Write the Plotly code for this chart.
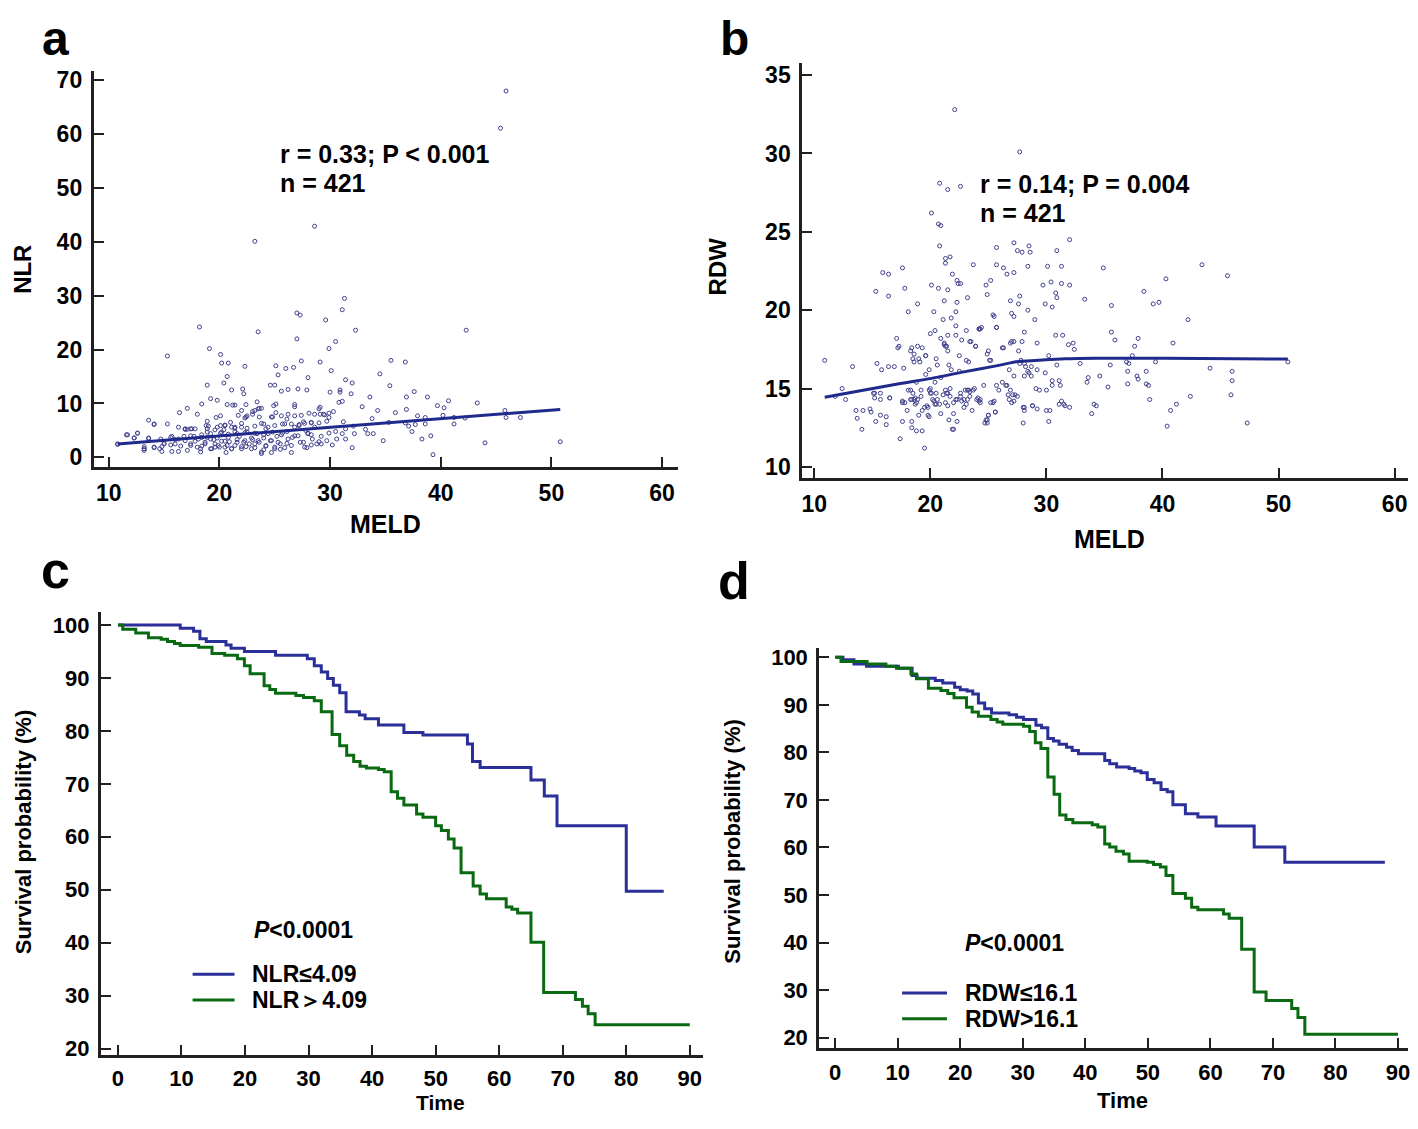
import plotly.graph_objects as go

# ---------------- Panel a: NLR vs MELD ----------------
meld_a = [
    31.3, 31.1, 27.0, 27.3, 29.6, 18.2, 23.5, 32.3, 42.3, 27.0,
    30.5, 29.9, 19.1, 20.1, 15.3, 20.2, 20.8, 22.3, 27.4, 29.1,
    35.5, 36.8, 25.1, 26.0, 26.7, 30.1, 25.3, 28.0, 20.7, 34.5,
    31.4, 32.0, 20.4, 35.4, 18.9, 24.6, 25.0, 22.1, 21.1, 22.2,
    26.2, 25.6, 27.1, 27.9, 30.0, 30.9, 30.9, 31.9, 37.6, 38.8,
    33.6, 36.9, 40.7, 43.3, 39.7, 40.3, 36.9, 35.9, 34.3, 32.9,
    45.8, 45.9, 47.2, 42.2, 41.2, 40.2, 37.9, 38.6, 33.8, 35.3,
    36.8, 37.1, 37.7, 38.6, 41.2, 37.4, 38.3, 39.1, 44.0, 50.8,
    39.3, 34.8, 33.9, 33.2, 33.4, 32.0, 32.2, 32.1, 31.2, 31.4,
    31.1, 30.5, 30.2, 30.6, 31.4, 29.9, 29.9, 29.9, 30.3, 30.8,
    31.1, 29.1, 29.0, 29.4, 28.6, 28.1, 29.0, 28.3, 27.7, 27.2,
    26.8, 28.0, 28.3, 27.8, 27.1, 26.6, 29.0, 29.2, 28.3, 27.9,
    26.5, 25.5, 24.7, 24.0, 23.8, 24.2, 23.2, 22.4, 22.0, 21.1,
    20.6, 19.6, 19.2, 18.4, 18.3, 17.1, 16.3, 15.7, 14.8, 14.1,
    13.2, 13.2, 12.3, 11.6, 12.6, 10.8, 13.6, 14.1, 15.3, 13.6,
    16.3, 16.4, 17.1, 18.0, 18.4, 19.2, 19.8, 20.7, 21.2, 21.4,
    22.0, 22.4, 23.4, 21.7, 22.4, 23.0, 23.5, 23.8, 24.9, 25.1,
    24.8, 26.2, 26.8, 26.8, 27.4, 18.9, 19.0, 20.1, 19.7, 20.5,
    21.4, 22.0, 22.5, 23.2, 23.8, 24.4, 25.0, 25.7, 17.8, 17.4,
    16.9, 15.7, 16.0, 16.8, 17.7, 18.4, 19.2, 20.1, 20.8, 21.6,
    22.3, 23.2, 24.0, 24.8, 25.6, 26.1, 15.0, 17.4, 18.7, 19.5,
    20.2, 20.9, 21.6, 22.2, 23.0, 23.5, 24.6, 25.3, 26.1, 27.6,
    19.9, 20.5, 21.4, 22.9, 25.0, 14.7, 18.1, 18.9, 19.8, 21.0,
    20.4, 45.9, 45.4, 28.6, 23.2, 10.8, 11.7, 12.6, 12.3, 13.6,
    13.2, 13.2, 14.1, 14.6, 14.8, 15.0, 15.6, 15.6, 16.0, 16.3,
    16.5, 16.9, 17.4, 17.4, 17.8, 18.0, 18.3, 18.4, 18.7, 18.9,
    19.2, 19.3, 19.6, 19.8, 20.0, 20.2, 20.5, 20.7, 20.8, 21.1,
    21.4, 21.6, 21.8, 22.0, 22.3, 22.5, 22.7, 22.9, 23.2, 23.4,
    23.6, 23.8, 24.0, 24.2, 24.4, 24.7, 25.0, 25.2, 25.5, 25.7,
    25.9, 26.2, 26.5, 26.8, 27.3, 27.7, 28.0, 28.4, 28.8, 29.2, 29.7,
    16.9, 17.1, 17.5, 18.8, 18.9, 19.6, 20.1, 20.5, 21.1, 21.4,
    22.0, 22.3, 22.5, 23.0, 23.2, 23.6, 23.6, 24.0, 24.2, 24.7,
    25.1, 25.6, 25.9, 26.1, 26.5, 26.8, 27.2, 27.6, 28.3, 28.6,
    29.1, 29.5, 29.7, 14.1,
]
nlr_a = [
    29.5, 27.4, 26.8, 26.4, 25.5, 24.2, 23.3, 23.6, 23.6, 22.0,
    21.5, 20.2, 20.2, 19.1, 18.8, 17.5, 17.5, 16.9, 17.9, 17.7,
    18.0, 17.7, 17.0, 16.5, 16.7, 16.1, 15.3, 14.8, 15.0, 15.5,
    14.4, 13.8, 13.8, 13.3, 13.4, 13.4, 13.4, 12.7, 12.5, 11.8,
    12.6, 12.3, 12.7, 12.5, 12.1, 12.5, 12.1, 11.8, 12.2, 11.2,
    11.2, 11.2, 10.5, 10.1, 9.6, 9.2, 8.9, 8.3, 8.7, 9.4,
    8.7, 7.4, 7.4, 7.3, 7.4, 7.8, 7.7, 7.4, 7.2, 6.5,
    6.4, 5.8, 6.1, 6.2, 6.2, 4.8, 3.4, 4.0, 2.7, 2.9,
    0.5, 3.1, 4.4, 5.2, 4.4, 1.8, 4.4, 5.8, 6.6, 5.3,
    4.4, 4.8, 2.3, 3.4, 3.4, 4.5, 7.4, 8.2, 8.5, 10.2,
    10.4, 9.3, 9.0, 8.0, 8.0, 8.2, 6.4, 6.4, 6.3, 6.1,
    5.6, 4.4, 4.2, 5.0, 4.0, 3.7, 2.9, 2.5, 2.3, 1.8,
    0.9, 1.5, 0.9, 1.4, 0.7, 2.1, 2.5, 2.0, 1.6, 1.6,
    0.9, 1.9, 1.6, 2.1, 1.0, 1.3, 1.1, 1.1, 1.1, 1.8,
    1.3, 1.6, 3.6, 4.2, 4.5, 2.5, 3.6, 6.2, 6.2, 6.9,
    5.6, 8.3, 9.1, 8.0, 9.9, 10.9, 10.6, 9.8, 9.7, 9.7,
    8.7, 9.8, 10.3, 7.8, 7.5, 8.0, 9.0, 9.1, 9.6, 9.9,
    7.5, 8.0, 9.8, 9.4, 7.8, 6.7, 5.8, 7.7, 7.4, 5.9,
    5.4, 5.6, 5.4, 5.8, 6.3, 5.6, 5.9, 6.2, 5.3, 5.3,
    5.3, 3.9, 3.3, 3.9, 3.9, 4.2, 4.4, 4.5, 4.3, 4.4,
    4.6, 4.5, 4.2, 4.7, 4.2, 4.8, 2.6, 2.5, 2.8, 3.3,
    3.0, 2.9, 3.3, 2.8, 3.3, 3.1, 3.1, 2.8, 2.6, 2.8,
    2.2, 1.9, 2.2, 1.6, 1.9, 3.4, 3.4, 3.7, 5.6, 6.5,
    5.1, 68.0, 61.1, 42.9, 40.1, 2.4, 4.2, 4.5, 3.6, 3.5,
    1.6, 2.0, 1.9, 1.6, 2.0, 2.5, 2.3, 3.7, 2.5, 3.4,
    2.1, 3.1, 4.0, 2.2, 3.0, 1.9, 1.6, 3.7, 2.5, 4.7,
    3.4, 1.6, 2.5, 3.6, 1.9, 4.7, 3.0, 2.2, 3.7, 1.6,
    4.8, 2.8, 3.9, 2.0, 3.1, 4.7, 2.5, 3.6, 1.8, 4.4,
    2.8, 1.0, 3.6, 2.2, 4.4, 3.1, 1.6, 3.9, 2.5, 4.5,
    1.8, 3.4, 2.2, 4.0, 2.8, 1.9, 4.5, 3.4, 2.5, 3.9, 3.1,
    5.2, 5.2, 5.3, 5.9, 5.3, 5.1, 5.9, 6.0, 5.6, 5.6,
    6.3, 7.3, 7.7, 8.5, 8.7, 9.1, 7.5, 6.2, 5.3, 7.5,
    8.3, 7.7, 6.2, 7.1, 6.2, 7.7, 5.9, 6.6, 6.5, 5.6,
    8.0, 7.9, 6.7, 6.1,
]
fit_a_meld = [10.8, 50.8]
fit_a_nlr = [2.5, 8.9]

# ---------------- Panel b: RDW vs MELD ----------------
meld_b = [
    20.1, 20.7, 20.9, 20.8, 21.3, 21.3, 21.7, 21.9, 22.3, 22.4,
    22.6, 21.5, 20.7, 20.1, 20.3, 21.1, 21.2, 21.8, 22.2, 22.3,
    23.2, 23.7, 24.8, 24.9, 25.2, 25.7, 25.7, 26.3, 26.6, 27.2,
    27.2, 27.5, 27.9, 28.5, 28.6, 28.4, 26.9, 27.6, 27.7, 28.4,
    27.0, 27.2, 29.0, 29.7, 30.1, 30.4, 30.9, 31.3, 31.3, 32.0,
    32.0, 29.9, 30.5, 30.8, 30.9, 33.3, 34.9, 35.6, 38.4, 39.2,
    39.7, 40.3, 42.2, 43.4, 45.6, 15.3, 15.9, 16.4, 16.4, 17.6,
    17.8, 18.9, 18.1, 22.1, 27.7, 20.8, 21.5, 22.6, 17.1, 17.3,
    17.2, 18.4, 18.9, 19.3, 19.6, 20.0, 20.4, 20.9, 21.2, 21.4,
    21.5, 22.2, 22.2, 22.7, 23.1, 23.4, 23.9, 24.2, 24.4, 25.0,
    25.4, 25.5, 25.7, 26.2, 26.9, 27.0, 28.1, 29.2, 30.8, 31.4,
    31.9, 32.3, 32.4, 30.2, 35.6, 35.9, 37.4, 37.9, 37.6, 40.9,
    10.9, 13.3, 12.4, 11.8, 12.7, 13.6, 14.2, 13.7, 14.1, 14.8,
    14.9, 15.1, 15.4, 15.3, 15.7, 15.7, 15.8, 16.2, 16.2, 16.4,
    16.5, 16.9, 17.4, 17.6, 17.6, 17.7, 18.0, 18.1, 18.3, 18.4,
    18.4, 18.6, 18.8, 18.8, 18.8, 19.3, 19.0, 19.2, 19.2, 19.3,
    19.5, 19.6, 19.7, 19.8, 19.9, 20.0, 20.1, 20.2, 20.4, 20.4,
    20.5, 20.6, 20.9, 20.9, 21.1, 21.3, 21.4, 21.5, 21.6, 21.7,
    21.9, 22.0, 22.0, 22.2, 22.3, 22.5, 22.6, 22.7, 22.9, 23.0,
    23.2, 23.3, 23.4, 23.6, 23.8, 24.0, 24.2, 24.3, 24.6, 24.7,
    24.9, 25.0, 25.2, 25.4, 25.6, 25.7, 25.9, 26.2, 26.5, 26.7,
    26.8, 27.0, 27.2, 27.3, 27.5, 27.7, 28.0, 28.1, 28.0, 28.2,
    28.5, 28.7, 28.8, 29.1, 29.2, 29.4, 29.9, 30.0, 30.0, 30.2,
    30.3, 30.5, 30.5, 30.9, 31.1, 31.1, 31.2, 31.3, 31.5, 31.6,
    32.0, 32.9, 33.5, 33.6, 33.9, 34.1, 34.3, 34.6, 35.3, 35.5,
    36.9, 37.1, 37.0, 37.0, 37.8, 37.9, 38.6, 38.6, 38.8, 38.9,
    39.4, 40.4, 40.7, 41.2, 42.4, 44.1, 45.9, 46.0, 46.0, 47.3, 50.8,
    15.2, 15.2, 15.7, 16.5, 17.6, 17.8, 18.3, 18.5, 18.7, 18.4,
    18.7, 18.9, 19.5, 19.8, 19.9, 20.0, 20.3, 20.5, 20.8, 21.3,
    21.5, 21.7, 22.0, 22.3, 22.6, 22.9, 23.1, 23.2, 23.4, 23.7,
    24.1, 24.3, 24.8, 24.9, 25.0, 25.5, 25.6, 26.6, 26.9, 27.1,
    26.8, 27.2, 28.1, 28.8, 28.1, 28.4, 18.3, 18.6, 19.0, 19.1,
    18.5, 18.6, 19.6, 19.9, 20.5, 20.6, 21.2, 21.3, 21.5, 21.6,
    21.8, 22.5, 23.1, 23.3, 23.5, 23.9, 24.2, 24.3, 24.9, 25.1,
    25.2, 25.7, 26.3, 27.2, 27.6, 27.9, 27.8, 28.1, 28.7, 29.2,
]
rdw_b = [
    26.2, 25.5, 25.4, 24.1, 23.3, 23.0, 23.4, 22.3, 21.9, 21.7,
    21.7, 21.3, 21.4, 21.6, 19.9, 19.4, 20.6, 19.5, 19.9, 20.5,
    20.8, 22.9, 21.6, 21.0, 21.9, 24.0, 22.9, 22.7, 22.3, 24.3,
    22.4, 23.8, 23.7, 24.1, 23.7, 22.8, 20.6, 20.4, 20.9, 20.0,
    19.8, 19.6, 19.4, 21.6, 22.8, 21.8, 23.8, 22.8, 21.7, 24.5,
    21.6, 20.4, 20.2, 21.1, 20.8, 20.7, 22.7, 20.3, 21.2, 20.4,
    20.5, 22.0, 19.4, 22.9, 22.2, 21.2, 22.4, 22.3, 20.9, 22.7,
    21.4, 20.4, 19.9, 32.8, 30.1, 28.1, 27.7, 27.9, 18.2, 17.7,
    17.6, 17.6, 17.7, 17.6, 17.1, 18.5, 18.7, 18.2, 17.8, 17.7,
    18.4, 18.4, 19.0, 18.1, 18.7, 18.0, 17.7, 18.8, 18.9, 17.4,
    19.7, 19.6, 18.9, 17.6, 17.9, 18.0, 18.6, 17.9, 18.4, 18.4,
    17.8, 17.9, 17.5, 17.1, 18.6, 18.1, 17.1, 18.2, 17.7, 17.9,
    16.8, 16.4, 15.0, 14.5, 14.3, 13.6, 13.6, 13.1, 12.4, 13.7,
    13.5, 14.7, 16.6, 12.9, 14.3, 13.3, 16.2, 13.2, 12.7, 16.4,
    14.4, 16.4, 11.8, 14.1, 12.9, 16.3, 13.6, 14.9, 14.3, 12.9,
    12.5, 14.3, 15.4, 14.1, 12.3, 12.3, 13.3, 14.5, 14.9, 13.6,
    11.2, 15.9, 13.9, 13.3, 13.2, 15.0, 14.7, 14.3, 15.4, 14.0,
    14.7, 14.3, 13.4, 15.7, 14.6, 14.1, 14.7, 13.9, 13.0, 15.0,
    12.4, 12.4, 13.4, 14.3, 12.9, 16.1, 14.7, 14.2, 13.8, 14.9,
    14.3, 14.9, 14.5, 13.6, 15.0, 14.3, 14.2, 14.1, 15.2, 12.8,
    13.0, 13.3, 14.1, 14.1, 13.5, 15.2, 14.9, 15.4, 15.2, 14.6,
    16.2, 14.1, 15.8, 14.6, 14.5, 16.6, 13.8, 13.6, 12.8, 16.4,
    16.0, 15.8, 13.9, 15.0, 13.7, 14.9, 16.0, 14.9, 13.6, 12.9,
    13.6, 15.5, 15.2, 16.5, 14.0, 15.5, 15.2, 14.2, 14.0, 13.9,
    13.8, 16.6, 15.4, 15.7, 13.4, 14.0, 13.9, 15.8, 15.1, 16.5,
    16.7, 16.6, 16.1, 15.3, 15.8, 15.6, 16.1, 15.3, 15.2, 14.3,
    16.7, 12.6, 13.6, 14.0, 14.5, 16.3, 14.6, 15.5, 16.1, 12.8, 16.7,
    14.7, 14.4, 14.7, 14.4, 14.2, 14.1, 14.9, 14.7, 14.4, 14.3,
    14.0, 14.3, 13.8, 13.8, 14.9, 14.7, 14.2, 14.0, 14.0, 14.9,
    14.7, 14.5, 14.1, 14.3, 14.5, 14.3, 14.0, 14.9, 14.8, 14.9,
    14.4, 14.3, 13.0, 12.8, 13.3, 14.2, 13.5, 15.2, 14.9, 14.6,
    14.3, 14.2, 13.8, 13.9, 15.8, 16.1, 17.4, 17.2, 16.9, 16.7,
    16.9, 16.7, 17.1, 16.2, 16.9, 16.5, 17.9, 17.7, 17.4, 16.5,
    16.2, 17.1, 16.8, 16.7, 18.0, 17.7, 18.8, 18.8, 17.2, 16.8,
    16.8, 18.9, 17.6, 18.0, 17.4, 18.0, 16.8, 16.6, 16.4, 16.2,
]
fit_b_meld = [10.9, 17.3, 20.1, 23.0, 25.9, 27.6, 28.7, 31.6, 34.5, 40.2, 50.8]
fit_b_rdw = [14.45, 15.3, 15.65, 16.08, 16.48, 16.73, 16.77, 16.9, 16.94, 16.94, 16.88]

# ---------------- Panel c: KM by NLR ----------------
time_c_low = [0, 9.8, 11.9, 12.9, 13.9, 17.0, 17.8, 19.9, 24.8, 29.8, 30.9, 32.0, 33.0,
              33.9, 34.9, 35.9, 38.0, 38.9, 41.0, 45.0, 48.0, 55.0, 55.8, 57.0, 65.0,
              67.1, 69.1, 80.0, 85.9]
surv_c_low = [100, 99.4, 98.8, 97.4, 96.9, 96.2, 95.6, 95.0, 94.3, 93.6, 92.3, 91.1, 89.9,
              88.6, 87.2, 83.6, 83.0, 82.3, 81.1, 79.7, 79.2, 77.5, 74.2, 73.1, 70.7,
              67.7, 62.1, 49.7, 49.7]
time_c_high = [0, 0.75, 2.8, 4.8, 6.8, 7.8, 8.9, 9.8, 12.7, 14.8, 16.8, 18.8, 19.9, 20.8,
               23.0, 23.9, 24.8, 28.0, 29.2, 30.9, 32.0, 33.7, 34.9, 36.0, 37.1, 38.1,
               39.1, 41.0, 41.9, 43.0, 44.0, 45.0, 47.0, 48.0, 50.0, 50.9, 52.0, 52.9,
               54.0, 55.9, 57.0, 58.0, 61.1, 62.0, 62.9, 65.0, 67.0, 72.0, 73.1, 74.0,
               75.1, 90.0]
surv_c_high = [100, 99.2, 98.5, 97.6, 97.3, 96.9, 96.5, 96.1, 95.8, 94.6, 94.3, 93.6, 92.3,
               90.8, 88.5, 87.8, 87.1, 86.7, 86.3, 85.7, 83.6, 79.3, 77.2, 75.4, 74.2,
               73.3, 73.0, 72.7, 72.3, 68.5, 67.3, 66.0, 64.3, 63.7, 62.1, 61.2, 59.6,
               57.9, 53.2, 50.7, 49.2, 48.3, 46.75, 46.3, 45.6, 40.1, 30.6, 29.25, 28.0,
               26.6, 24.5, 24.5]

# ---------------- Panel d: KM by RDW ----------------
time_d_low = [0, 1.24, 3.0, 5.0, 10.1, 12.3, 13.1, 16.0, 17.2, 19.1, 20.0, 21.1, 22.0,
              22.9, 23.9, 25.0, 27.8, 29.0, 30.1, 32.1, 33.0, 34.0, 34.9, 35.8, 37.0,
              37.9, 38.9, 43.1, 43.9, 45.0, 47.0, 47.9, 48.9, 49.9, 51.0, 52.1, 53.1,
              54.0, 56.0, 58.0, 60.9, 67.0, 71.9, 87.9]
surv_d_low = [100, 99.5, 98.6, 98.1, 97.7, 96.2, 95.6, 95.1, 94.6, 93.7, 93.2, 92.9, 92.3,
              90.4, 89.2, 88.3, 87.9, 87.4, 86.9, 85.7, 85.2, 82.9, 82.4, 81.7, 81.1,
              80.4, 79.7, 78.3, 77.6, 76.9, 76.6, 76.1, 75.7, 74.3, 73.6, 72.2, 71.7,
              69.0, 67.1, 66.4, 64.5, 60.1, 56.9, 56.9]
time_d_high = [0, 0.93, 5.1, 8.1, 9.8, 12.1, 13.0, 14.9, 16.9, 18.0, 19.0, 21.0, 21.9,
               22.9, 24.9, 25.9, 26.8, 30.1, 31.1, 32.0, 32.9, 34.0, 35.0, 35.9, 36.9,
               38.0, 41.1, 42.0, 43.1, 43.9, 44.9, 46.1, 47.0, 49.9, 50.9, 52.0, 52.9,
               54.0, 56.0, 57.0, 58.0, 62.1, 63.0, 65.0, 67.0, 68.9, 73.0, 74.0, 75.1, 90.0]
surv_d_high = [100, 99.1, 98.6, 98.1, 97.7, 96.5, 95.5, 93.5, 93.0, 92.4, 91.5, 89.5, 88.5,
               87.6, 86.9, 86.4, 85.9, 85.5, 84.4, 82.0, 80.8, 74.8, 71.2, 66.8, 65.9,
               65.2, 64.8, 64.3, 60.7, 60.1, 59.2, 58.6, 57.1, 56.9, 56.4, 55.9, 54.1,
               50.3, 49.3, 47.4, 46.9, 46.0, 45.1, 38.6, 29.6, 27.8, 26.1, 24.2, 20.7, 20.7]

ticks_a_x = [10, 20, 30, 40, 50, 60]
ticks_a_y = [0, 10, 20, 30, 40, 50, 60, 70]
ticks_b_y = [10, 15, 20, 25, 30, 35]
ticks_km_x = [0, 10, 20, 30, 40, 50, 60, 70, 80, 90]
ticks_km_y = [20, 30, 40, 50, 60, 70, 80, 90, 100]

# ---------------- Styling ----------------
# The page body has an 8px margin, so the figure is sized to fit inside it and
# reference pixel positions are shifted by that margin.
OFF = 8
W, H = 1418 - 2 * OFF, 1129 - 2 * OFF
FONT = "Liberation Sans, Arial, sans-serif"
AXC = "#231f20"
DOT = "#40408c"
FIT = "#1f2a8c"
BLUE = "#2b2f98"
GREEN = "#0a6a12"


def px(x):
    return min(1.0, max(0.0, (x - OFF) / W))


def py(y):
    return min(1.0, max(0.0, 1 - (y - OFF) / H))


def axis(domain, rng, tickvals, size=23, anchor=None, standoff=3):
    d = dict(domain=domain, range=rng, tickvals=tickvals,
             showline=True, linewidth=3, linecolor=AXC,
             ticks="inside", ticklen=10, tickwidth=2, tickcolor=AXC,
             showgrid=False, zeroline=False, ticklabeloverflow="allow",
             tickfont=dict(family=FONT, size=size, color="black", weight="bold"),
             ticklabelstandoff=standoff)
    if anchor:
        d["anchor"] = anchor
    return d


fig = go.Figure()

# panel a
fig.add_trace(go.Scatter(x=meld_a, y=nlr_a, mode="markers", xaxis="x", yaxis="y",
                         marker=dict(symbol="circle-open", size=4, color=DOT, line=dict(width=1)),
                         showlegend=False))
fig.add_trace(go.Scatter(x=fit_a_meld, y=fit_a_nlr, mode="lines", xaxis="x", yaxis="y",
                         line=dict(color=FIT, width=3), showlegend=False))
# panel b
fig.add_trace(go.Scatter(x=meld_b, y=rdw_b, mode="markers", xaxis="x2", yaxis="y2",
                         marker=dict(symbol="circle-open", size=4, color=DOT, line=dict(width=1)),
                         showlegend=False))
fig.add_trace(go.Scatter(x=fit_b_meld, y=fit_b_rdw, mode="lines", xaxis="x2", yaxis="y2",
                         line=dict(color=FIT, width=3, shape="spline"), showlegend=False))
# panel c
fig.add_trace(go.Scatter(x=time_c_low, y=surv_c_low, mode="lines", xaxis="x3", yaxis="y3",
                         line=dict(color=BLUE, width=3, shape="hv"), showlegend=False))
fig.add_trace(go.Scatter(x=time_c_high, y=surv_c_high, mode="lines", xaxis="x3", yaxis="y3",
                         line=dict(color=GREEN, width=3, shape="hv"), showlegend=False))
# panel d
fig.add_trace(go.Scatter(x=time_d_low, y=surv_d_low, mode="lines", xaxis="x4", yaxis="y4",
                         line=dict(color=BLUE, width=3, shape="hv"), showlegend=False))
fig.add_trace(go.Scatter(x=time_d_high, y=surv_d_high, mode="lines", xaxis="x4", yaxis="y4",
                         line=dict(color=GREEN, width=3, shape="hv"), showlegend=False))

layout = dict(
    width=W, height=H, margin=dict(l=0, r=0, t=0, b=0),
    paper_bgcolor="white", plot_bgcolor="rgba(0,0,0,0)", showlegend=False,
    xaxis=axis([px(93), px(678)], [8.65, 61.4], ticks_a_x, anchor="y"),
    yaxis=axis([py(468), py(68)], [-1.84, 71.8], ticks_a_y, anchor="x", standoff=4),
    xaxis2=axis([px(803), px(1410)], [8.97, 61.15], ticks_a_x, anchor="y2"),
    yaxis2=axis([py(479), py(60)], [9.28, 35.8], ticks_b_y, anchor="x2", standoff=4),
    xaxis3=axis([px(100), px(703)], [-2.7, 92.0], ticks_km_x, size=22, anchor="y3", standoff=1),
    yaxis3=axis([py(1061), py(614)], [18.7, 102.43], ticks_km_y, size=22, anchor="x3", standoff=4),
    xaxis4=axis([px(820), px(1410)], [-2.55, 91.6], ticks_km_x, size=22, anchor="y4"),
    yaxis4=axis([py(1053), py(650)], [17.9, 102.0], ticks_km_y, size=22, anchor="x4", standoff=4),
)
fig.update_layout(**layout)


def note(text, x, y, size=21, xanchor="center", angle=0, yanchor="middle"):
    fig.add_annotation(text=text, x=px(x), y=py(y), xref="paper", yref="paper",
                       showarrow=False, xanchor=xanchor, yanchor=yanchor, textangle=angle,
                       borderpad=0,
                       font=dict(family=FONT, size=size, color="black", weight="bold"))


# panel letters
note("a", 55, OFF, size=48, yanchor="top")
note("b", 735, OFF, size=48, yanchor="top")
note("c", 55, 572, size=52)
note("d", 735, 583, size=52)
# axis titles
note("NLR", 22, 268, size=24, angle=-90)
note("MELD", 385, 525, size=25)
note("RDW", 718, 265, size=24, angle=-90)
note("MELD", 1111, 540, size=25)
note("Survival probability (%)", 22, 835, size=22, angle=-90)
note("Time", 440, 1108, size=21)
note("Survival probability (%)", 733, 845, size=22, angle=-90)
note("Time", 1124, 1106, size=22)
# statistics
note("r = 0.33; P &lt; 0.001", 279, 152, size=25, xanchor="left")
note("n = 421", 279, 181, size=25, xanchor="left")
note("r = 0.14; P = 0.004", 980, 182, size=25, xanchor="left")
note("n = 421", 980, 212, size=25, xanchor="left")
note("<i>P</i>&lt;0.0001", 253, 934, size=23, xanchor="left")
note("<i>P</i>&lt;0.0001", 965, 948, size=23, xanchor="left")
# legends
note("NLR≤4.09", 251, 979, size=23, xanchor="left")
note("NLR＞4.09", 251, 1005, size=23, xanchor="left")
note("RDW≤16.1", 965, 998, size=23, xanchor="left")
note("RDW>16.1", 965, 1024, size=23, xanchor="left")
for (x0, x1, y, c) in [(192, 234, 979, BLUE), (192, 234, 1005, GREEN),
                       (903, 948, 998, BLUE), (903, 948, 1024, GREEN)]:
    fig.add_shape(type="line", xref="paper", yref="paper", x0=px(x0), x1=px(x1),
                  y0=py(y), y1=py(y), line=dict(color=c, width=3))

fig.write_html("out.html")
